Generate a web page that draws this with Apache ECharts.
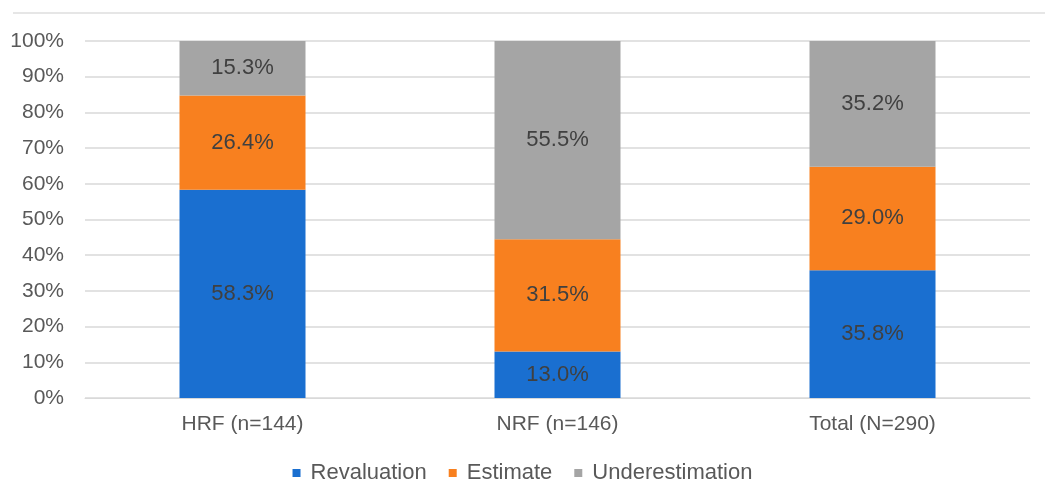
<!DOCTYPE html>
<html>
<head>
<meta charset="utf-8">
<script src="https://cdn.jsdelivr.net/npm/echarts@6/dist/echarts.min.js"></script>
<style>
  html, body { margin: 0; padding: 0; background: #fff; }
  #chart { width: 1045px; height: 501px; }
</style>
</head>
<body>
<div id="chart"></div>
<script>
// 数据
const categories = ["HRF (n=144)", "NRF (n=146)", "Total (N=290)"];
const revaluation = [58.3, 13.0, 35.8];
const estimate = [26.4, 31.5, 29.0];
const underestimation = [15.3, 55.5, 35.2];
const yTicks = [0, 10, 20, 30, 40, 50, 60, 70, 80, 90, 100];

const font = "Liberation Sans, Arial, sans-serif";

function makeSeries(name, data, color) {
    return {
        name: name,
        type: "bar",
        stack: "total",
        barWidth: "40%",
        data: data,
        itemStyle: { color: color },
        label: {
            show: true,
            position: "inside",
            formatter: (p) => p.value.toFixed(1) + "%",
            fontFamily: font,
            fontSize: 22,
            color: "#404040",
        },
    };
}

const chart = echarts.init(document.getElementById("chart"));
chart.setOption({
    animation: false,
    textStyle: { fontFamily: font },
    graphic: [{
        type: "line",
        shape: { x1: 13, y1: 13, x2: 1045, y2: 13 },
        style: { stroke: "#e6e6e6", lineWidth: 2 },
    }],
    grid: { left: 85, right: 15, top: 41, bottom: 103 },
    legend: {
        top: 457,
        left: "center",
        itemWidth: 8,
        itemHeight: 8,
        itemGap: 22,
        icon: "rect",
        textStyle: { fontFamily: font, fontSize: 22, color: "#595959", padding: [0, 0, 0, 5] },
        data: ["Revaluation", "Estimate", "Underestimation"],
    },
    xAxis: {
        type: "category",
        data: categories,
        axisLine: { lineStyle: { color: "#d9d9d9" } },
        axisTick: { show: false },
        axisLabel: { fontSize: 21, color: "#595959", margin: 16 },
    },
    yAxis: {
        type: "value",
        min: yTicks[0],
        max: yTicks[yTicks.length - 1],
        interval: 10,
        axisLine: { show: false },
        axisTick: { show: false },
        splitLine: { lineStyle: { color: "#d9d9d9", width: 1.5 } },
        axisLabel: { fontSize: 21, color: "#595959", margin: 21, formatter: "{value}%" },
    },
    series: [
        makeSeries("Revaluation", revaluation, "#1a6fd0"),
        makeSeries("Estimate", estimate, "#f8801f"),
        makeSeries("Underestimation", underestimation, "#a5a5a5"),
    ],
});
</script>
</body>
</html>
